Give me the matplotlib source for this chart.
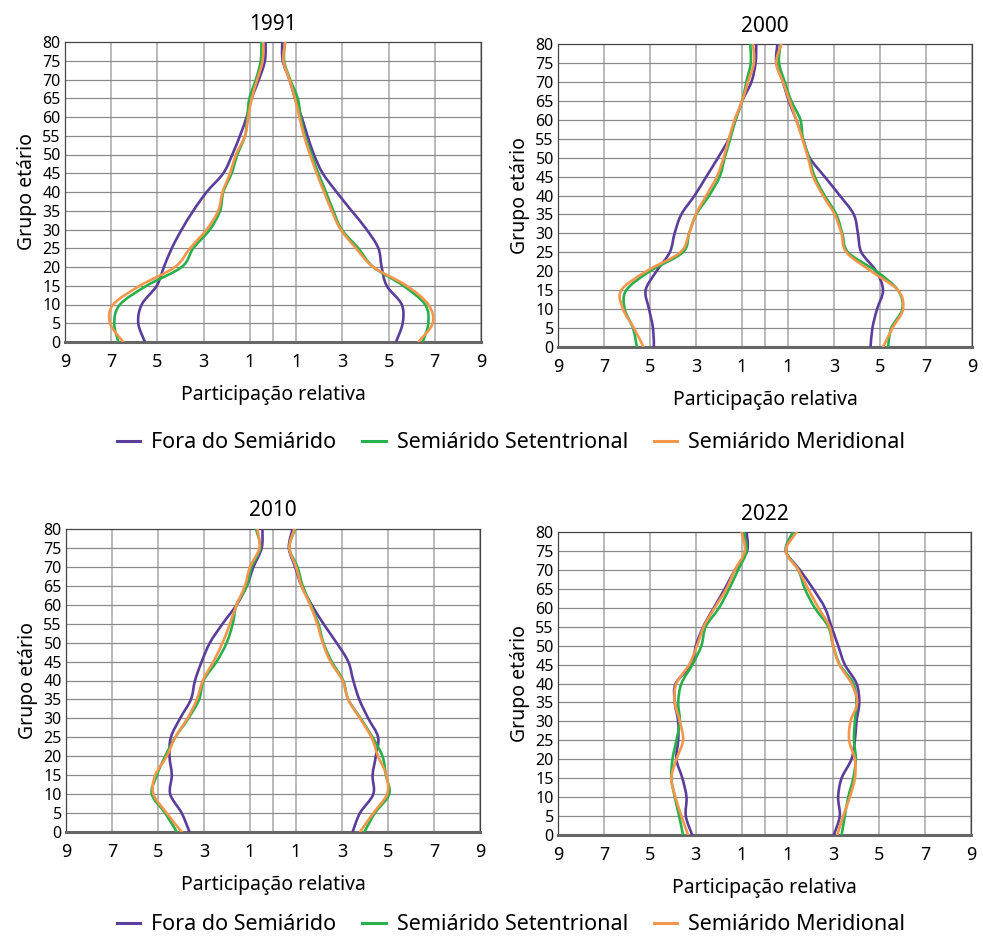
import matplotlib
matplotlib.use("Agg")
import matplotlib.pyplot as plt
from matplotlib.path import Path
from matplotlib.patches import PathPatch
from matplotlib.lines import Line2D
import numpy as np

plt.rcParams['font.family'] = ['Noto Sans', 'DejaVu Sans']

ages = [0, 5, 10, 15, 20, 25, 30, 35, 40, 45, 50, 55, 60, 65, 70, 75, 80]
series_names = ["Fora do Semiárido", "Semiárido Setentrional", "Semiárido Meridional"]
colors = ["#5b3d9c", "#27b04b", "#f5964c"]

# left side (men) read as positive shares, right side (women)
left_1991 = [
    [5.54, 5.83, 5.68, 5.03, 4.72, 4.38, 3.95, 3.45, 2.87, 2.15, 1.76, 1.43, 1.14, 0.92, 0.61, 0.35, 0.32],
    [6.69, 6.87, 6.62, 5.47, 3.95, 3.45, 2.73, 2.29, 2.15, 1.79, 1.54, 1.21, 1.11, 1.02, 0.74, 0.53, 0.50],
    [6.48, 7.05, 6.91, 5.76, 4.24, 3.59, 2.87, 2.37, 2.18, 1.86, 1.60, 1.21, 1.07, 0.92, 0.68, 0.45, 0.42],
]
right_1991 = [
    [5.32, 5.61, 5.57, 4.92, 4.70, 4.56, 4.05, 3.40, 2.75, 2.15, 1.77, 1.49, 1.24, 0.95, 0.71, 0.42, 0.40],
    [6.48, 6.72, 6.58, 5.64, 4.34, 3.69, 2.97, 2.61, 2.29, 1.96, 1.67, 1.38, 1.20, 1.07, 0.74, 0.48, 0.52],
    [6.29, 6.91, 6.72, 5.78, 4.34, 3.59, 2.93, 2.54, 2.21, 1.89, 1.60, 1.34, 1.14, 0.95, 0.71, 0.45, 0.53],
]
left_2000 = [
    [4.83, 4.87, 5.04, 5.19, 4.72, 4.14, 3.93, 3.64, 3.06, 2.55, 2.04, 1.57, 1.28, 0.99, 0.59, 0.41, 0.38],
    [5.57, 5.74, 6.10, 6.03, 5.01, 3.57, 3.30, 2.99, 2.43, 1.97, 1.75, 1.51, 1.28, 0.99, 0.81, 0.62, 0.64],
    [5.28, 5.70, 6.17, 6.25, 5.16, 3.68, 3.30, 3.01, 2.55, 2.09, 1.80, 1.57, 1.32, 0.99, 0.74, 0.48, 0.52],
]
right_2000 = [
    [4.59, 4.67, 4.87, 5.13, 4.84, 4.19, 4.04, 3.86, 3.25, 2.59, 1.94, 1.65, 1.36, 1.03, 0.78, 0.49, 0.54],
    [5.35, 5.49, 5.97, 5.78, 4.84, 3.61, 3.36, 3.10, 2.59, 2.16, 1.91, 1.65, 1.54, 1.14, 0.86, 0.61, 0.68],
    [5.13, 5.54, 6.00, 5.78, 4.62, 3.54, 3.32, 3.03, 2.52, 2.09, 1.87, 1.62, 1.36, 1.07, 0.78, 0.49, 0.71],
]
left_2010 = [
    [3.63, 3.97, 4.47, 4.40, 4.50, 4.44, 4.04, 3.57, 3.39, 3.10, 2.74, 2.19, 1.58, 1.14, 0.85, 0.49, 0.46],
    [4.18, 4.69, 5.27, 5.05, 4.69, 4.25, 3.68, 3.21, 3.02, 2.45, 2.01, 1.75, 1.58, 1.14, 0.93, 0.56, 0.74],
    [3.97, 4.62, 5.20, 5.12, 4.62, 4.25, 3.72, 3.31, 3.05, 2.59, 2.19, 1.87, 1.58, 1.22, 1.00, 0.59, 0.68],
]
right_2010 = [
    [3.46, 3.78, 4.36, 4.33, 4.47, 4.57, 4.14, 3.75, 3.49, 3.27, 2.76, 2.19, 1.68, 1.24, 0.96, 0.69, 0.85],
    [3.97, 4.43, 5.05, 4.91, 4.76, 4.33, 3.81, 3.27, 3.05, 2.55, 2.19, 1.97, 1.64, 1.29, 1.06, 0.71, 0.96],
    [3.78, 4.36, 4.96, 4.93, 4.57, 4.28, 3.78, 3.27, 3.02, 2.50, 2.16, 1.92, 1.61, 1.24, 1.00, 0.71, 0.93],
]
left_2022 = [
    [3.15, 3.43, 3.40, 3.58, 3.84, 3.76, 3.76, 3.91, 3.87, 3.18, 2.99, 2.67, 2.21, 1.73, 1.29, 0.76, 0.78],
    [3.55, 3.72, 3.91, 4.06, 4.01, 3.84, 3.69, 3.76, 3.62, 3.14, 2.75, 2.56, 1.98, 1.54, 1.15, 0.78, 0.90],
    [3.33, 3.62, 3.88, 4.06, 3.84, 3.55, 3.69, 3.91, 3.84, 3.28, 2.94, 2.65, 2.17, 1.66, 1.29, 0.86, 1.00],
]
right_2022 = [
    [3.02, 3.28, 3.21, 3.36, 3.79, 3.94, 4.01, 4.13, 4.01, 3.50, 3.21, 2.92, 2.63, 2.12, 1.54, 0.93, 1.25],
    [3.36, 3.50, 3.65, 3.87, 3.98, 3.90, 3.94, 4.01, 3.87, 3.28, 2.99, 2.78, 2.19, 1.76, 1.47, 0.93, 1.25],
    [3.17, 3.43, 3.72, 3.94, 3.94, 3.69, 3.75, 4.04, 3.79, 3.26, 2.99, 2.83, 2.35, 1.90, 1.47, 0.93, 1.40],
]

years = ["1991", "2000", "2010", "2022"]
lefts = [left_1991, left_2000, left_2010, left_2022]
rights = [right_1991, right_2000, right_2010, right_2022]

xticks = [-9, -7, -5, -3, -1, 1, 3, 5, 7, 9]
xticklabels = ["9", "7", "5", "3", "1", "1", "3", "5", "7", "9"]


def smooth_path(xs, ys):
    """Catmull-Rom through the read points, drawn as bezier segments."""
    pts = np.column_stack([xs, ys])
    n = len(pts)
    verts = [pts[0]]
    codes = [Path.MOVETO]
    for i in range(n - 1):
        p0 = pts[i - 1] if i > 0 else pts[i]
        p1 = pts[i]
        p2 = pts[i + 1]
        p3 = pts[i + 2] if i + 2 < n else pts[i + 1]
        c1 = p1 + (p2 - p0) / 6.0
        c2 = p2 - (p3 - p1) / 6.0
        verts += [c1, c2, p2]
        codes += [Path.CURVE4] * 3
    return Path(verts, codes)


W, H = 983, 941
fig = plt.figure(figsize=(W / 100, H / 100), dpi=100)

# axes boxes in pixels: left, right, top, bottom
boxes = [(65, 481, 42, 342), (558, 972, 44, 347), (66, 480, 529, 832), (558, 971, 532, 835)]

for k, (l, r, t, b) in enumerate(boxes):
    ax = fig.add_axes([l / W, 1 - b / H, (r - l) / W, (b - t) / H])
    ax.set_xlim(-9, 9)
    ax.set_ylim(0, 80)

    for gx in [-9, -7, -5, -3, -1, 0, 1, 3, 5, 7, 9]:
        ax.axvline(gx, color="#b4b4b4", lw=1.3, zorder=1)
    for gy in range(5, 80, 5):
        ax.axhline(gy, color="#8a8a8a", lw=0.9, zorder=1)

    for s in range(3):
        xl = -np.array(lefts[k][s])
        xr = np.array(rights[k][s])
        for xs in (xl, xr):
            ax.add_patch(PathPatch(smooth_path(xs, ages), fill=False, edgecolor=colors[s],
                                   lw=1.9, capstyle="round", joinstyle="round", zorder=3))

    ax.set_xticks(xticks)
    ax.set_xticklabels(xticklabels, fontsize=13)
    ax.set_yticks(ages)
    ax.tick_params(axis="y", labelsize=11.5, length=0, pad=3)
    ax.tick_params(axis="x", length=0, pad=8)
    ax.set_title(years[k], fontsize=15, pad=9)
    ax.set_xlabel("Participação relativa", fontsize=14, labelpad=10)
    ax.set_ylabel("Grupo etário", fontsize=14, labelpad=4)

    for side in ["top", "right", "left"]:
        ax.spines[side].set_color("#444444")
        ax.spines[side].set_linewidth(0.9)
    ax.spines["bottom"].set_color("#666666")
    ax.spines["bottom"].set_linewidth(2.2)

handles = [Line2D([0], [0], color=c, lw=2.2) for c in colors]
for ly in [443, 925]:
    fig.legend(handles, series_names, loc="center", bbox_to_anchor=(511 / W, 1 - ly / H),
               ncol=3, frameon=False, fontsize=15.5, handlelength=1.1, handletextpad=0.5,
               columnspacing=1.2)

fig.savefig("out.png", dpi=100)
